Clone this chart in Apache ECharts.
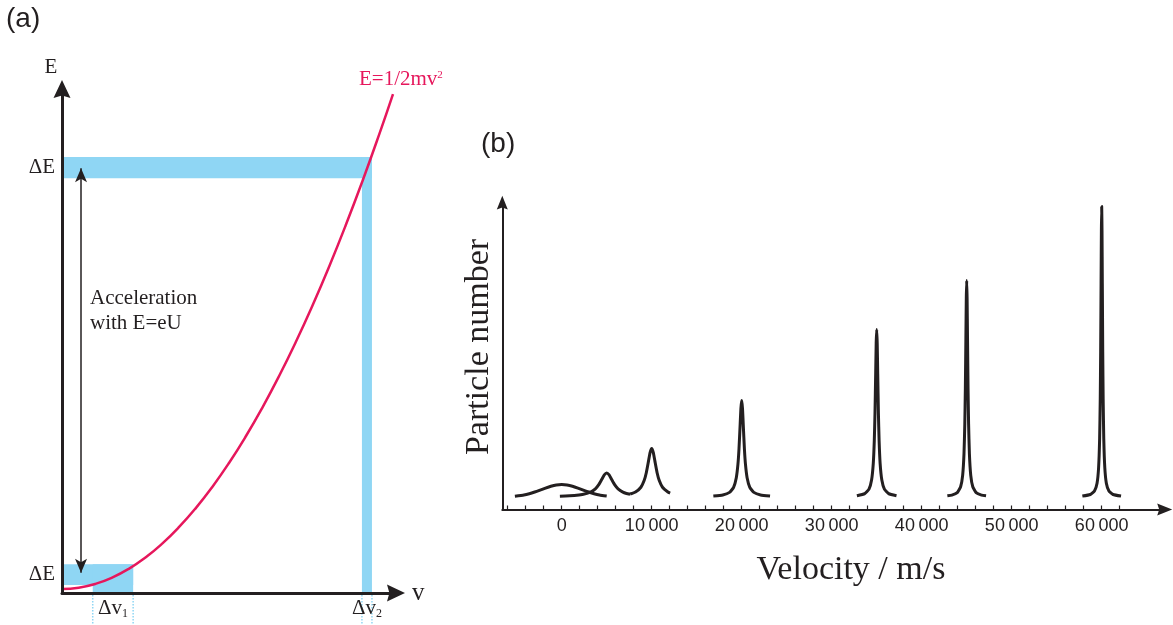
<!DOCTYPE html>
<html>
<head>
<meta charset="utf-8">
<script src="https://cdn.jsdelivr.net/npm/echarts@6/dist/echarts.min.js"></script>
<style>
  html, body { margin: 0; padding: 0; background: #fff; }
  #chart { width: 1173px; height: 625px; }
</style>
</head>
<body>
<div id="chart"></div>
<script>
// ---------- (a) kinetic energy versus velocity (arbitrary units) ----------
const parabolaV = [0, 0.05, 0.1, 0.15, 0.2, 0.25, 0.3, 0.35, 0.4, 0.45, 0.5, 0.55, 0.6, 0.65, 0.7, 0.75, 0.8, 0.85, 0.9, 0.95, 0.991];
const parabolaE = [0.008, 0.0105, 0.018, 0.0305, 0.048, 0.0705, 0.098, 0.1305, 0.168, 0.2105, 0.258, 0.3105, 0.368, 0.4305, 0.498, 0.5705, 0.648, 0.7305, 0.818, 0.9105, 0.990];
// energy spread before / after acceleration, and the matching velocity spreads
const energyBands = [[0.016, 0.057], [0.823, 0.865]];
const velocityBands = [[0.092, 0.213], [0.898, 0.928]];
// acceleration arrow: velocity position, lower tip, upper tip
const accelArrowV = 0.057;
const accelArrowE = [0.040, 0.843];
const energyTickLabels = ['ΔE', 'ΔE'];
const velocityTickLabels = ['{m|Δv}{s|1}', '{m|Δv}{s|2}'];

// ---------- (b) velocity distributions: [velocity m/s, particle number] ----------
const peak0 = [[-5200, 4.45], [-4200, 4.86], [-3600, 5.27], [-3000, 5.82], [-2400, 6.46], [-1800, 7.13], [-1200, 7.73], [-600, 8.15], [0, 8.3], [600, 8.15], [1200, 7.73], [1800, 7.13], [2400, 6.46], [3000, 5.82], [3600, 5.27], [4200, 4.86], [5000, 4.51]];
const peak5k = [[-200, 4.43], [1400, 4.67], [2300, 5.0], [3200, 5.8], [3740, 6.9], [4100, 8.2], [4460, 10.08], [4730, 11.54], [5000, 12.2], [5270, 11.54], [5540, 10.08], [5900, 8.2], [6260, 6.9], [6800, 5.8], [7200, 5.35], [7600, 5.06]];
const peak10k = [[7600, 5.15], [8200, 5.81], [8800, 7.42], [9160, 9.64], [9400, 12.25], [9640, 16.04], [9820, 18.97], [10000, 20.3], [10180, 18.97], [10360, 16.04], [10600, 12.25], [10840, 9.64], [11200, 7.42], [11800, 5.81], [12050, 5.47]];
const peak20k = [[16850, 4.5], [17900, 4.85], [18650, 5.7], [19100, 7.4], [19400, 10.6], [19580, 15.0], [19700, 20.25], [19820, 27.8], [19910, 33.65], [20000, 36.3], [20090, 33.65], [20180, 27.8], [20300, 20.25], [20420, 15.0], [20600, 10.6], [20900, 7.4], [21350, 5.7], [22100, 4.85], [23150, 4.5]];
const peak35k = [[32800, 4.6], [33670, 5.3], [34145, 6.8], [34430, 9.8], [34620, 15.4], [34734, 23.05], [34810, 32.1], [34886, 45.2], [34943, 55.4], [35000, 60.0], [35057, 55.4], [35114, 45.2], [35190, 32.1], [35266, 23.05], [35380, 15.4], [35570, 9.8], [35855, 6.8], [36330, 5.3], [37200, 4.6]];
const peak45k = [[42850, 4.55], [43350, 4.8], [43950, 5.6], [44325, 7.6], [44550, 11.4], [44700, 18.6], [44790, 28.6], [44850, 40.25], [44910, 57.2], [44955, 70.3], [45000, 76.3], [45045, 70.3], [45090, 57.2], [45150, 40.25], [45210, 28.6], [45300, 18.6], [45450, 11.4], [45675, 7.6], [46050, 5.6], [46650, 4.8], [47150, 4.55]];
const peak60k = [[57850, 4.48], [58735, 5.0], [59195, 6.14], [59483, 8.76], [59655, 13.9], [59770, 23.6], [59839, 36.9], [59885, 52.6], [59931, 75.4], [59966, 93.0], [60000, 101.0], [60034, 93.0], [60069, 75.4], [60115, 52.6], [60161, 36.9], [60230, 23.6], [60345, 13.9], [60517, 8.76], [60805, 6.14], [61265, 5.0], [62150, 4.48]];
const velocityTicks = [0, 10000, 20000, 30000, 40000, 50000, 60000];
const velocityTickText = ['0', '10\u2009000', '20\u2009000', '30\u2009000', '40\u2009000', '50\u2009000', '60\u2009000'];
const velocityTickMarks = [-6000, -4000, -2000, 0, 2000, 4000, 6000, 8000, 10000, 12000, 14000, 16000, 18000, 20000, 22000, 24000, 26000, 28000, 30000, 32000, 34000, 36000, 38000, 40000, 42000, 44000, 46000, 48000, 50000, 52000, 54000, 56000, 58000, 60000, 62000];

// ---------- styling ----------
const ink = '#231f20';
const blue = '#8fd6f4';
const red = '#e6175c';
const serif = "'Liberation Serif', 'Times New Roman', serif";
const sans = "'Liberation Sans', Arial, sans-serif";
const bigArrow = 'path://M8.5,0L17,18L8.5,15.6L0,18Z';
const smallArrow = 'path://M6,0L12,15L6,13L0,15Z';

const bandCentersE = energyBands.map(b => (b[0] + b[1]) / 2);
const bandCentersV = velocityBands.map(b => (b[0] + b[1]) / 2);
function nearestIndex(list, v) {
  let best = 0;
  list.forEach((x, i) => { if (Math.abs(x - v) < Math.abs(list[best] - v)) best = i; });
  return best;
}

// rectangles [v0, e0, v1, e1]: horizontal energy strip and vertical velocity strip
const bandRects = [];
energyBands.forEach((eb, i) => {
  const vb = velocityBands[i];
  bandRects.push([0, eb[0], vb[1], eb[1]]);
  bandRects.push([vb[0], 0, vb[1], eb[1]]);
});
const velocityEdges = [];
velocityBands.forEach(vb => { velocityEdges.push([vb[0], 0]); velocityEdges.push([vb[1], 0]); });

function peakSeries(data) {
  return {
    type: 'line', xAxisIndex: 1, yAxisIndex: 1, data: data,
    smooth: 0.15, symbol: 'none', clip: false, silent: true,
    lineStyle: { color: ink, width: 3, join: 'round' }
  };
}

const chart = echarts.init(document.getElementById('chart'), null, { renderer: 'canvas' });
chart.setOption({
  animation: false,
  backgroundColor: '#ffffff',
  grid: [
    { left: 62, top: 89, width: 334, height: 504 },
    { left: 502.3, top: 202.5, width: 662.4, height: 307 }
  ],
  xAxis: [
    {
      gridIndex: 0, type: 'value', min: 0, max: 1, z: 5,
      axisLine: { show: true, onZero: false, symbol: ['none', bigArrow], symbolSize: [17, 18], lineStyle: { color: ink, width: 3 } },
      axisTick: { show: false }, splitLine: { show: false },
      axisLabel: {
        customValues: bandCentersV, margin: 3,
        formatter: v => velocityTickLabels[nearestIndex(bandCentersV, v)],
        rich: {
          m: { fontFamily: serif, fontSize: 21, color: ink, lineHeight: 24 },
          s: { fontFamily: serif, fontSize: 12, color: ink, lineHeight: 10, verticalAlign: 'bottom' }
        }
      },
      name: 'v', nameLocation: 'end', nameGap: 16,
      nameTextStyle: { fontFamily: serif, fontSize: 25, color: ink, padding: [13, 0, 0, 0] }
    },
    {
      gridIndex: 1, type: 'value', min: -6600, max: 67000,
      axisLine: { show: true, onZero: false, symbol: ['none', smallArrow], symbolSize: [12, 15], lineStyle: { color: ink, width: 2 } },
      axisTick: { show: true, inside: true, length: 4, customValues: velocityTickMarks, lineStyle: { color: ink, width: 1.2 } },
      splitLine: { show: false },
      axisLabel: {
        customValues: velocityTicks, margin: 8,
        fontFamily: sans, fontSize: 18, color: ink,
        formatter: v => velocityTickText[velocityTicks.indexOf(v)]
      },
      name: 'Velocity / m/s', nameLocation: 'middle', nameGap: 44,
      nameTextStyle: { fontFamily: serif, fontSize: 34, color: ink, padding: [0, 0, 0, 35] }
    }
  ],
  yAxis: [
    {
      gridIndex: 0, type: 'value', min: 0, max: 1, z: 5,
      axisLine: { show: true, onZero: false, symbol: ['none', bigArrow], symbolSize: [17, 18], lineStyle: { color: ink, width: 3 } },
      axisTick: { show: false }, splitLine: { show: false },
      axisLabel: {
        customValues: bandCentersE, margin: 7,
        fontFamily: serif, fontSize: 21, color: ink,
        formatter: v => energyTickLabels[nearestIndex(bandCentersE, v)]
      },
      name: 'E', nameLocation: 'end', nameGap: 11,
      nameTextStyle: { fontFamily: serif, fontSize: 21, color: ink, padding: [0, 22, 0, 0] }
    },
    {
      gridIndex: 1, type: 'value', min: 0, max: 102.3,
      axisLine: { show: true, onZero: false, symbol: ['none', smallArrow], symbolSize: [11, 15], lineStyle: { color: ink, width: 2 } },
      axisTick: { show: false }, splitLine: { show: false }, axisLabel: { show: false },
      name: 'Particle number', nameLocation: 'middle', nameRotate: 90, nameGap: 6,
      nameTextStyle: { fontFamily: serif, fontSize: 34, color: ink, padding: [0, 0, 0, 18] }
    }
  ],
  series: [
    {
      // blue strips: energy spread and the velocity spread it maps to
      type: 'custom', xAxisIndex: 0, yAxisIndex: 0, z: 1, silent: true,
      data: bandRects,
      renderItem: (params, api) => {
        const p0 = api.coord([api.value(0), api.value(1)]);
        const p1 = api.coord([api.value(2), api.value(3)]);
        return {
          type: 'rect',
          shape: { x: Math.min(p0[0], p1[0]), y: Math.min(p0[1], p1[1]), width: Math.abs(p1[0] - p0[0]), height: Math.abs(p1[1] - p0[1]) },
          style: { fill: blue }
        };
      }
    },
    {
      // dotted guides marking each velocity spread under the v axis
      type: 'custom', xAxisIndex: 0, yAxisIndex: 0, z: 1, silent: true, clip: false,
      data: velocityEdges,
      renderItem: (params, api) => {
        const p = api.coord([api.value(0), api.value(1)]);
        return {
          type: 'line',
          shape: { x1: p[0], y1: p[1] + 2, x2: p[0], y2: p[1] + 40 },
          style: { stroke: blue, lineWidth: 1.5, lineDash: [1.5, 1.5] }
        };
      }
    },
    {
      type: 'line', xAxisIndex: 0, yAxisIndex: 0, z: 4, silent: true,
      data: parabolaV.map((v, i) => [v, parabolaE[i]]),
      smooth: 0.5, symbol: 'none',
      lineStyle: { color: red, width: 2.5 },
      markLine: {
        silent: true, animation: false,
        symbol: ['arrow', 'arrow'], symbolSize: [9, 14],
        label: { show: false },
        lineStyle: { color: ink, width: 1.5, type: 'solid' },
        emphasis: { disabled: true },
        data: [[{ coord: [accelArrowV, accelArrowE[0]] }, { coord: [accelArrowV, accelArrowE[1]] }]]
      }
    },
    peakSeries(peak0),
    peakSeries(peak5k),
    peakSeries(peak10k),
    peakSeries(peak20k),
    peakSeries(peak35k),
    peakSeries(peak45k),
    peakSeries(peak60k)
  ],
  graphic: [
    { type: 'text', x: 6, y: 19, silent: true,
      style: { text: '(a)', fontFamily: sans, fontSize: 28, fill: ink, align: 'left', verticalAlign: 'middle' } },
    { type: 'text', x: 481, y: 144, silent: true,
      style: { text: '(b)', fontFamily: sans, fontSize: 28, fill: ink, align: 'left', verticalAlign: 'middle' } },
    { type: 'text', x: 90, y: 310.5, silent: true,
      style: { text: 'Acceleration\nwith E=eU', fontFamily: serif, fontSize: 21, lineHeight: 25, fill: ink, align: 'left', verticalAlign: 'middle' } },
    { type: 'text', x: 359, y: 79, silent: true,
      style: {
        text: '{a|E=1/2mv}{s|2}', align: 'left', verticalAlign: 'middle',
        rich: {
          a: { fontFamily: serif, fontSize: 21, fill: red, lineHeight: 22 },
          s: { fontFamily: serif, fontSize: 11, fill: red, lineHeight: 22, padding: [0, 0, 8, 0] }
        }
      } }
  ]
});
</script>
</body>
</html>
